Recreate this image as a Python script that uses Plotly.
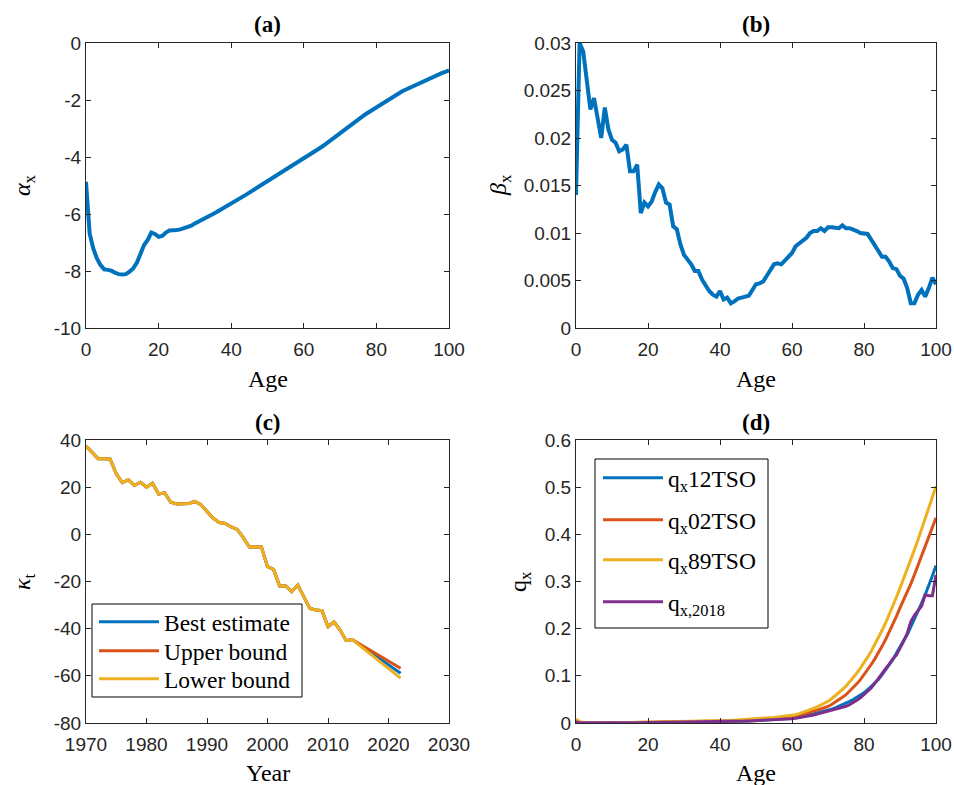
import plotly.graph_objects as go

# ---------------- data ----------------
ages = list(range(0, 101))

alpha_x = [-4.87, -6.68, -7.21, -7.56, -7.79, -7.94, -7.96, -7.99, -8.06, -8.11,
           -8.12, -8.11, -8.02, -7.91, -7.71, -7.38, -7.09, -6.91, -6.65, -6.70,
           -6.80, -6.77, -6.65, -6.58, -6.58, -6.56, -6.54, -6.50, -6.44, -6.41,
           -6.33, -6.27, -6.21, -6.15, -6.08, -6.00, -5.93, -5.86, -5.79, -5.72,
           -5.65, -5.57, -5.49, -5.41, -5.33, -5.25, -5.17, -5.10, -5.02, -4.95,
           -4.87, -4.79, -4.71, -4.62, -4.54, -4.46, -4.38, -4.31, -4.23, -4.16,
           -4.08, -3.99, -3.90, -3.81, -3.73, -3.64, -3.55, -3.45, -3.36, -3.26,
           -3.17, -3.07, -2.97, -2.87, -2.78, -2.68, -2.59, -2.50, -2.42, -2.33,
           -2.24, -2.15, -2.07, -1.99, -1.91, -1.83, -1.76, -1.70, -1.64, -1.58,
           -1.52, -1.46, -1.40, -1.34, -1.28, -1.21, -1.16, -1.11, -1.06, -1.01,
           -0.96]

beta_x = [0.0140, 0.0300, 0.0291, 0.0263, 0.0230, 0.0242, 0.0218, 0.0200, 0.0232, 0.0209,
          0.0198, 0.0195, 0.0186, 0.0188, 0.0193, 0.0165, 0.0165, 0.0172, 0.0121, 0.0132,
          0.0128, 0.0133, 0.0143, 0.0151, 0.0147, 0.0132, 0.0130, 0.0107, 0.0104, 0.0088,
          0.0077, 0.0072, 0.0067, 0.0060, 0.0060, 0.0051, 0.0044, 0.0039, 0.0035, 0.0033,
          0.0039, 0.0030, 0.0032, 0.0026, 0.0028, 0.0031, 0.0032, 0.0033, 0.0034, 0.0040,
          0.0046, 0.0047, 0.0049, 0.0055, 0.0062, 0.0067, 0.0068, 0.0067, 0.0071, 0.0075,
          0.0079, 0.0086, 0.0089, 0.0091, 0.0095, 0.0100, 0.0102, 0.0102, 0.0105, 0.0102,
          0.0106, 0.0106, 0.0105, 0.0105, 0.0108, 0.0105, 0.0105, 0.0104, 0.0102, 0.0100,
          0.0100, 0.0099, 0.0093, 0.0087, 0.0082, 0.0075, 0.0075, 0.0070, 0.0063, 0.0062,
          0.0055, 0.0052, 0.0042, 0.0026, 0.0026, 0.0035, 0.0040, 0.0033, 0.0042, 0.0053,
          0.0046]

years_hist = list(range(1970, 2015))
kappa_hist = [37.4, 34.6, 32.1, 32.1, 31.9, 25.7, 21.9, 23.1, 20.7, 22.1,
              20.0, 21.7, 17.1, 17.6, 13.6, 12.9, 12.9, 13.1, 14.0, 12.6,
              9.7, 6.9, 5.0, 4.6, 3.1, 2.1, -1.4, -5.4, -5.4, -5.4,
              -13.7, -14.9, -21.9, -21.9, -24.3, -21.5, -26.4, -31.4, -32.1, -32.4,
              -39.2, -37.1, -40.6, -45.1, -44.6]
years_proj = list(range(2014, 2023))
kappa_best = [-44.6, -46.4, -48.2, -50.0, -51.8, -53.5, -55.3, -57.1, -58.9]
kappa_upper = [-44.6, -46.1, -47.7, -49.2, -50.7, -52.2, -53.8, -55.3, -56.8]
kappa_lower = [-44.6, -46.7, -48.7, -50.8, -52.8, -54.9, -56.9, -59.0, -61.0]

q_12tso = [0.0035, 0.0006, 0.0004, 0.0003, 0.0003, 0.0002, 0.0002, 0.0002, 0.0002, 0.0002,
           0.0002, 0.0002, 0.0003, 0.0003, 0.0004, 0.0005, 0.0006, 0.0007, 0.0008, 0.0008,
           0.0009, 0.0009, 0.0009, 0.0009, 0.0009, 0.0010, 0.0010, 0.0010, 0.0011, 0.0011,
           0.0012, 0.0012, 0.0013, 0.0014, 0.0015, 0.0016, 0.0017, 0.0018, 0.0020, 0.0022,
           0.0024, 0.0026, 0.0028, 0.0030, 0.0033, 0.0035, 0.0038, 0.0041, 0.0044, 0.0047,
           0.0050, 0.0054, 0.0058, 0.0063, 0.0068, 0.0073, 0.0078, 0.0084, 0.0090, 0.0097,
           0.0105, 0.0116, 0.0128, 0.0141, 0.0157, 0.0175, 0.0190, 0.0207, 0.0225, 0.0246,
           0.0268, 0.0294, 0.0322, 0.0352, 0.0385, 0.0420, 0.0458, 0.0498, 0.0542, 0.0590,
           0.0640, 0.0705, 0.0775, 0.0845, 0.0920, 0.1020, 0.1130, 0.1235, 0.1340, 0.1480,
           0.1630, 0.1750, 0.1870, 0.2030, 0.2190, 0.2360, 0.2540, 0.2720, 0.2900, 0.3120,
           0.3340]
q_02tso = [0.0050, 0.0012, 0.0008, 0.0006, 0.0005, 0.0004, 0.0004, 0.0003, 0.0003, 0.0003,
           0.0003, 0.0003, 0.0004, 0.0005, 0.0006, 0.0008, 0.0010, 0.0012, 0.0013, 0.0014,
           0.0014, 0.0014, 0.0014, 0.0014, 0.0014, 0.0014, 0.0014, 0.0015, 0.0015, 0.0016,
           0.0016, 0.0017, 0.0018, 0.0019, 0.0020, 0.0022, 0.0024, 0.0026, 0.0028, 0.0030,
           0.0033, 0.0035, 0.0038, 0.0041, 0.0044, 0.0047, 0.0050, 0.0054, 0.0058, 0.0062,
           0.0066, 0.0070, 0.0075, 0.0080, 0.0086, 0.0092, 0.0098, 0.0105, 0.0112, 0.0119,
           0.0127, 0.0143, 0.0160, 0.0180, 0.0203, 0.0230, 0.0250, 0.0272, 0.0297, 0.0323,
           0.0350, 0.0392, 0.0438, 0.0490, 0.0545, 0.0600, 0.0670, 0.0745, 0.0830, 0.0920,
           0.1020, 0.1130, 0.1240, 0.1360, 0.1480, 0.1625, 0.1770, 0.1925, 0.2080, 0.2260,
           0.2440, 0.2600, 0.2760, 0.2950, 0.3140, 0.3335, 0.3530, 0.3725, 0.3920, 0.4135,
           0.4350]
q_89tso = [0.0085, 0.0025, 0.0015, 0.0012, 0.0010, 0.0009, 0.0008, 0.0007, 0.0007, 0.0006,
           0.0006, 0.0006, 0.0007, 0.0008, 0.0010, 0.0012, 0.0014, 0.0016, 0.0018, 0.0019,
           0.0020, 0.0020, 0.0020, 0.0020, 0.0020, 0.0020, 0.0021, 0.0021, 0.0022, 0.0023,
           0.0024, 0.0025, 0.0026, 0.0028, 0.0030, 0.0032, 0.0034, 0.0036, 0.0039, 0.0042,
           0.0045, 0.0048, 0.0051, 0.0055, 0.0059, 0.0063, 0.0067, 0.0072, 0.0077, 0.0082,
           0.0087, 0.0092, 0.0098, 0.0104, 0.0111, 0.0118, 0.0126, 0.0134, 0.0142, 0.0148,
           0.0155, 0.0176, 0.0200, 0.0225, 0.0251, 0.0280, 0.0310, 0.0343, 0.0380, 0.0420,
           0.0460, 0.0515, 0.0575, 0.0640, 0.0710, 0.0780, 0.0870, 0.0965, 0.1060, 0.1165,
           0.1270, 0.1395, 0.1520, 0.1660, 0.1800, 0.1960, 0.2120, 0.2295, 0.2470, 0.2665,
           0.2860, 0.3055, 0.3250, 0.3460, 0.3670, 0.3885, 0.4100, 0.4330, 0.4560, 0.4790,
           0.5020]
q_2018 = [0.0030, 0.0004, 0.0003, 0.0002, 0.0002, 0.0001, 0.0001, 0.0001, 0.0001, 0.0001,
          0.0001, 0.0001, 0.0002, 0.0002, 0.0003, 0.0003, 0.0004, 0.0005, 0.0006, 0.0006,
          0.0007, 0.0007, 0.0007, 0.0007, 0.0008, 0.0008, 0.0008, 0.0009, 0.0009, 0.0010,
          0.0010, 0.0011, 0.0012, 0.0013, 0.0014, 0.0015, 0.0016, 0.0018, 0.0019, 0.0021,
          0.0023, 0.0025, 0.0027, 0.0029, 0.0032, 0.0034, 0.0037, 0.0040, 0.0043, 0.0046,
          0.0049, 0.0052, 0.0056, 0.0059, 0.0063, 0.0067, 0.0071, 0.0075, 0.0080, 0.0085,
          0.0090, 0.0100, 0.0112, 0.0125, 0.0140, 0.0158, 0.0170, 0.0188, 0.0208, 0.0228,
          0.0250, 0.0268, 0.0290, 0.0310, 0.0330, 0.0355, 0.0390, 0.0430, 0.0480, 0.0535,
          0.0600, 0.0665, 0.0740, 0.0840, 0.0950, 0.1050, 0.1150, 0.1250, 0.1360, 0.1440,
          0.1580, 0.1730, 0.1900, 0.2150, 0.2280, 0.2380, 0.2480, 0.2720, 0.2700, 0.2700,
          0.3140]

# ---------------- styling ----------------
W, H = 954, 785
BLUE, ORANGE, YELLOW, PURPLE = "#0072BD", "#D95319", "#EDB120", "#7E2F8E"
AX = "#262626"
SERIF = "Liberation Serif, Times New Roman, serif"
SANS = "Liberation Sans, Arial, sans-serif"


def px_x(p):
    return p / W


def px_y(p):
    return 1 - p / H


fig = go.Figure()

# (a)
fig.add_trace(go.Scatter(x=ages, y=alpha_x, mode="lines", line=dict(color=BLUE, width=4),
                         showlegend=False, xaxis="x", yaxis="y"))
# (b)
fig.add_trace(go.Scatter(x=ages, y=beta_x, mode="lines", line=dict(color=BLUE, width=4),
                         showlegend=False, xaxis="x2", yaxis="y2"))

legend_layouts = {}


def legend_item(key, x, y):
    legend_layouts[key] = dict(x=px_x(x), y=px_y(y), xanchor="left", yanchor="middle",
                               bgcolor="rgba(0,0,0,0)", borderwidth=0,
                               font=dict(family=SERIF, size=23.5, color="black"),
                               itemwidth=60)


# (c)
yrs_c = years_hist + years_proj[1:]
c_rows = [622, 651, 679]
for i, (name, proj, col) in enumerate([("Best estimate", kappa_best, BLUE),
                                       ("Upper bound", kappa_upper, ORANGE),
                                       ("Lower bound", kappa_lower, YELLOW)]):
    key = "legend" if i == 0 else "legend%d" % (i + 1)
    legend_item(key, 94, c_rows[i])
    fig.add_trace(go.Scatter(x=yrs_c, y=kappa_hist + proj[1:], mode="lines", name=name,
                             line=dict(color=col, width=3), xaxis="x3", yaxis="y3",
                             legend=key, showlegend=True))
# (d)
d_rows = [478, 520, 560, 602]
for i, (name, q, col) in enumerate([("q<sub>x</sub>12TSO", q_12tso, BLUE),
                                    ("q<sub>x</sub>02TSO", q_02tso, ORANGE),
                                    ("q<sub>x</sub>89TSO", q_89tso, YELLOW),
                                    ("q<sub>x,2018</sub>", q_2018, PURPLE)]):
    key = "legend%d" % (i + 4)
    legend_item(key, 598, d_rows[i])
    fig.add_trace(go.Scatter(x=ages, y=q, mode="lines", name=name,
                             line=dict(color=col, width=3), xaxis="x4", yaxis="y4",
                             legend=key, showlegend=True))


def axis(domain, rng, tickvals, ticktext, anchor, standoff=0):
    return dict(domain=domain, range=rng, tickvals=tickvals, ticktext=ticktext,
                anchor=anchor, showline=True, linecolor=AX, linewidth=1,
                mirror="allticks", ticks="inside", ticklen=5, tickcolor=AX,
                tickwidth=1, showgrid=False, zeroline=False, automargin=False,
                ticklabelstandoff=standoff,
                tickfont=dict(family=SANS, size=19, color=AX))


xL = [px_x(86), px_x(449)]
xR = [px_x(576), px_x(936)]
yT = [px_y(328), px_y(43)]
yB = [px_y(723), px_y(440)]

age_ticks = [0, 20, 40, 60, 80, 100]
age_text = [str(v) for v in age_ticks]

fig.update_layout(
    width=W, height=H, paper_bgcolor="white", plot_bgcolor="white",
    margin=dict(l=0, r=0, t=0, b=0, autoexpand=False),
    xaxis=axis(xL, [0, 100], age_ticks, age_text, "y", 4),
    yaxis=axis(yT, [-10, 0], [-10, -8, -6, -4, -2, 0], ["-10", "-8", "-6", "-4", "-2", "0"], "x"),
    xaxis2=axis(xR, [0, 100], age_ticks, age_text, "y2", 4),
    yaxis2=axis(yT, [0, 0.03], [0, 0.005, 0.01, 0.015, 0.02, 0.025, 0.03],
                ["0", "0.005", "0.01", "0.015", "0.02", "0.025", "0.03"], "x2"),
    xaxis3=axis(xL, [1970, 2030], [1970, 1980, 1990, 2000, 2010, 2020, 2030],
                ["1970", "1980", "1990", "2000", "2010", "2020", "2030"], "y3", 4),
    yaxis3=axis(yB, [-80, 40], [-80, -60, -40, -20, 0, 20, 40],
                ["-80", "-60", "-40", "-20", "0", "20", "40"], "x3"),
    xaxis4=axis(xR, [0, 100], age_ticks, age_text, "y4", 4),
    yaxis4=axis(yB, [0, 0.6], [0, 0.1, 0.2, 0.3, 0.4, 0.5, 0.6],
                ["0", "0.1", "0.2", "0.3", "0.4", "0.5", "0.6"], "x4"),
    **legend_layouts,
)

# legend boxes
fig.add_shape(type="rect", xref="paper", yref="paper",
              x0=px_x(92), x1=px_x(302), y0=px_y(697), y1=px_y(604),
              line=dict(color="black", width=1), fillcolor="white", layer="above")
fig.add_shape(type="rect", xref="paper", yref="paper",
              x0=px_x(595), x1=px_x(768), y0=px_y(628), y1=px_y(459),
              line=dict(color="black", width=1), fillcolor="white", layer="above")

ann = []


def text(x, y, t, size=24, angle=0):
    ann.append(dict(x=px_x(x), y=px_y(y), xref="paper", yref="paper", text=t,
                    showarrow=False, textangle=angle, xanchor="center", yanchor="middle",
                    font=dict(family=SERIF, size=size, color="black")))


# panel titles
text(267.5, 25, "<b>(a)</b>", size=23)
text(756, 25, "<b>(b)</b>", size=23)
text(267.5, 422, "<b>(c)</b>", size=23)
text(756, 422, "<b>(d)</b>", size=23)
# x-axis labels
text(267.5, 379, "Age")
text(756, 379, "Age")
text(267.5, 773, "Year")
text(756, 773, "Age")
# y-axis labels
text(24, 185, "<i>α</i><sub>x</sub>", angle=-90)
text(500, 185, "<i>β</i><sub>x</sub>", angle=-90)
text(24, 582, "<i>κ</i><sub>t</sub>", angle=-90)
text(520, 582, "q<sub>x</sub>", angle=-90)

fig.update_layout(annotations=ann)

fig.write_html("out.html", config={"displayModeBar": False},
               post_script="document.body.style.margin='0';")
